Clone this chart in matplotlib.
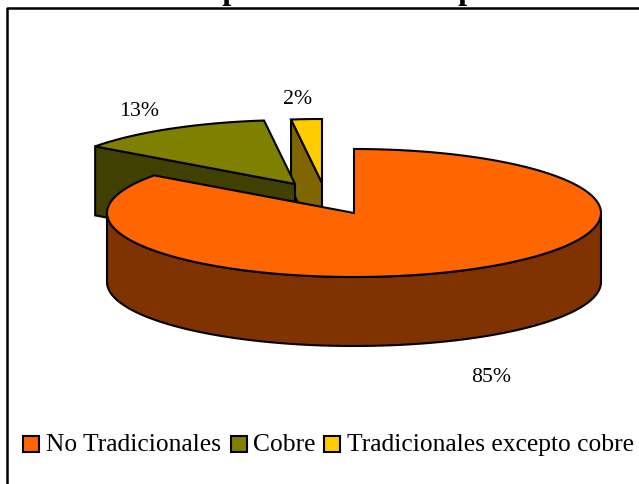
import matplotlib as mpl
mpl.use('Agg')
import matplotlib.pyplot as plt
import numpy as np
from matplotlib.patches import Polygon, Rectangle

labels = ['No Tradicionales', 'Cobre', 'Tradicionales excepto cobre']
shares = [85, 13, 2]
pct_labels = ['85%', '13%', '2%']
top_colors = ['#FF6600', '#808000', '#FFCC00']
side_colors = ['#803300', '#404000', '#806600']

W, H = 639, 484
RX, RY, DEPTH = 247, 64, 69
# wedge centres, in pixels
centers = [(354, 213), (295, 184), (322, 183)]

plt.rcParams['font.family'] = ['Liberation Serif', 'DejaVu Serif']

fig = plt.figure(figsize=(W / 100, H / 100), dpi=100)
ax = fig.add_axes([0, 0, 1, 1])
ax.set_xlim(0, W)
ax.set_ylim(H, 0)
ax.axis('off')

def arc(cx, cy, a0, a1):
    t = np.radians(np.linspace(a0, a1, 200))
    return np.column_stack([cx + RX * np.cos(t), cy - RY * np.sin(t)])

#Work out wedge angles clockwise from 12 o'clock:
edges = 90 - np.cumsum([0] + shares) * 3.6
edges = [float(e) for e in edges]

def draw_wedge(i, zorder):
    cx, cy = centers[i]
    a0, a1 = edges[i], edges[i + 1]
    top = np.vstack([[(cx, cy)], arc(cx, cy, a0, a1)])
    #Cut face that looks toward the viewer
    end = arc(cx, cy, a0, a0)[0]
    face = [end, (cx, cy), (cx, cy + DEPTH), (end[0], end[1] + DEPTH)]
    ax.add_patch(Polygon(face, fc=side_colors[i], ec='black', lw=1.5, zorder=zorder))
    ax.add_patch(Polygon(top, fc=top_colors[i], ec='black', lw=1.5, zorder=zorder + 0.5))

draw_wedge(2, 2)
draw_wedge(1, 3)

#Big slice: rim first, then top
cx, cy = centers[0]
front = arc(cx, cy, 180, 360)
rim = np.vstack([front, front[::-1] + [0, DEPTH]])
ax.add_patch(Polygon(rim, fc=side_colors[0], ec='black', lw=1.5, zorder=4))
top = np.vstack([[(cx, cy)], arc(cx, cy, edges[0], edges[1])])
ax.add_patch(Polygon(top, fc=top_colors[0], ec='black', lw=1.5, zorder=5))

#Percent labels
label_pos = [(491, 377), (139, 112), (298, 99)]
for s, (x, y) in zip(pct_labels, label_pos):
    ax.text(x, y, s, fontsize=15.7, color='black', ha='center', va='center', zorder=6)

#Legend drawn by hand so it sits where the original one does
swatch_x = [23, 231, 324]
text_x = [46, 253, 347]
for name, c, sx, tx in zip(labels, top_colors, swatch_x, text_x):
    ax.add_patch(Rectangle((sx, 436), 16, 16, fc=c, ec='black', lw=1.5, zorder=6))
    ax.text(tx, 451, name, fontsize=18.4, color='black', ha='left', va='baseline', zorder=6)

#Chart frame
ax.plot([7, 7, 639], [484, 8, 8], color='black', lw=1.8, zorder=7)

#Title is cut off by the top edge of the picture
ax.text(9, -1.5, 'Gráfico 4: Composición de las exportaciones b', fontsize=23, fontweight='bold',
        color='black', ha='left', va='baseline', zorder=8)

fig.savefig('out.png', dpi=100)
